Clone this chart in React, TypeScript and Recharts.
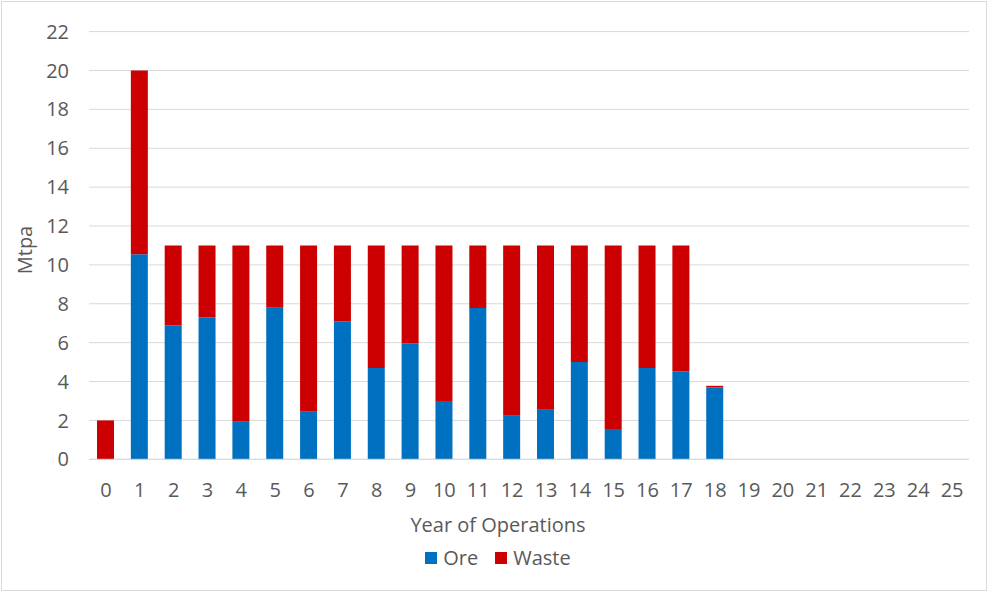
import React from 'react';
import { BarChart, Bar, XAxis, YAxis, CartesianGrid, Legend } from 'recharts';

const years = ['0','1','2','3','4','5','6','7','8','9','10','11','12','13','14','15','16','17','18','19','20','21','22','23','24','25'];
const oreValues = [0, 10.55, 6.9, 7.3, 1.93, 7.8, 2.48, 7.1, 4.7, 5.97, 3.0, 7.78, 2.24, 2.58, 5.0, 1.56, 4.7, 4.53, 3.71, 0, 0, 0, 0, 0, 0, 0];
const wasteValues = [2, 9.45, 4.1, 3.7, 9.07, 3.2, 8.52, 3.9, 6.3, 5.03, 8.0, 3.22, 8.76, 8.42, 6.0, 9.44, 6.3, 6.47, 0.07, 0, 0, 0, 0, 0, 0, 0];
const yTicks = [0, 2, 4, 6, 8, 10, 12, 14, 16, 18, 20, 22];

const seriesNames = { ore: 'Ore', waste: 'Waste' };
const colors = { ore: '#0070C0', waste: '#CC0000' };

const data = years.map((y, i) => ({ year: y, ore: oreValues[i], waste: wasteValues[i] }));

const TEXT = '#595959';
const FONT = '"Open Sans", sans-serif';

const LegendContent = () => (
  <div style={{ display: 'flex', justifyContent: 'center', alignItems: 'center', height: 22, paddingLeft: 8, fontFamily: FONT, fontSize: 20, color: TEXT }}>
    {(['ore', 'waste'] as const).map((k, i) => (
      <div key={k} style={{ display: 'flex', alignItems: 'center', marginLeft: i ? 17 : 0 }}>
        <div style={{ width: 12, height: 12, background: colors[k], marginRight: 6 }} />
        <span style={{ lineHeight: '22px' }}>{seriesNames[k]}</span>
      </div>
    ))}
  </div>
);

const YLabel = () => (
  <text x={32} y={250} transform="rotate(-90, 32, 250)" textAnchor="middle" fill={TEXT} fontSize={20} fontFamily={FONT}>
    Mtpa
  </text>
);

export default function App() {
  return (
    <div style={{ position: 'relative', width: 988, height: 592, fontFamily: FONT, background: '#fff' }}>
      <style>{'body{margin:0}'}</style>
      <BarChart width={988} height={592} data={data} margin={{ top: 31.6, right: 19, bottom: 23, left: 0 }}>
        <CartesianGrid vertical={false} stroke="#D9D9D9" />
        <XAxis
          dataKey="year"
          interval={0}
          axisLine={{ stroke: '#D9D9D9' }}
          tickLine={false}
          tickSize={0}
          tickMargin={23}
          height={87.7}
          tick={{ fontSize: 20, fill: TEXT, fontFamily: FONT }}
          label={{ value: 'Year of Operations', position: 'insideBottom', offset: 15, dx: -31, fill: TEXT, fontSize: 20, fontFamily: FONT }}
        />
        <YAxis
          domain={[0, 22]}
          ticks={yTicks}
          interval={0}
          axisLine={false}
          tickLine={false}
          tickSize={0}
          tickMargin={20}
          width={89}
          tick={{ fontSize: 20, fill: TEXT, fontFamily: FONT }}
          label={<YLabel />}
        />
        <Legend verticalAlign="bottom" content={<LegendContent />} wrapperStyle={{ left: 0, width: 988 }} />
        <Bar dataKey="ore" name={seriesNames.ore} stackId="a" fill={colors.ore} barSize={17} isAnimationActive={false} />
        <Bar dataKey="waste" name={seriesNames.waste} stackId="a" fill={colors.waste} barSize={17} isAnimationActive={false} />
      </BarChart>
      <div style={{ position: 'absolute', left: 1, top: 1, width: 984, height: 588, border: '1px solid #D9D9D9', pointerEvents: 'none' }} />
    </div>
  );
}
